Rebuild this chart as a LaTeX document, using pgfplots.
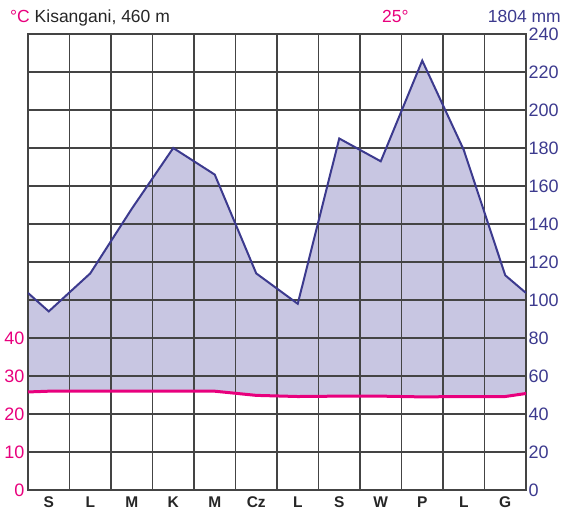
\documentclass[border=0pt]{standalone}
\usepackage{pgfplots}
\pgfplotsset{compat=1.18}
\usepgfplotslibrary{fillbetween}
\usepackage{fontspec}
\setmainfont{Liberation Sans}
\definecolor{tpink}{HTML}{E8007D}
\definecolor{pnavy}{HTML}{3C3A8E}
\definecolor{pfill}{HTML}{C8C6E2}
\definecolor{gridc}{HTML}{444444}
\begin{document}
\begin{tikzpicture}[x=1pt,y=1pt]
\begin{axis}[
  at={(0,0)}, anchor=south west,
  scale only axis, width=498pt, height=456pt,
  xmin=0, xmax=12, ymin=0, ymax=240,
  xtick={0.5,1.5,...,11.5},
  xticklabels={S,L,M,K,M,Cz,L,S,W,P,L,G},
  minor xtick={0,1,...,12},
  xmajorgrids=false, xminorgrids=true,
  ytick={0,20,...,240}, ymajorgrids=true,
  yticklabel pos=right,
  major tick length=0pt, minor tick length=0pt,
  major grid style={gridc, line width=1.2pt},
  minor grid style={gridc, line width=1.2pt},
  axis line style={gridc, line width=1.4pt},
  x tick label style={font=\fontsize{15.5}{17}\selectfont\bfseries, text=black!85, yshift=-3pt},
  y tick label style={font=\fontsize{18}{20}\selectfont, text=pnavy, anchor=west, xshift=-1pt},
  /pgf/number format/assume math mode=true,
  fill between/on layer=axis background,
]
\addplot[name path=P, pnavy, line width=2pt] coordinates {
  (0,103.7) (0.5,94) (1.5,114) (2.5,148) (3.5,180) (4.5,166) (5.5,114)
  (6.5,98) (7.5,185) (8.5,173) (9.5,226) (10.5,179) (11.5,113) (12,103.7)};
\addplot[name path=T, tpink, line width=3pt] table[x=m, y expr=\thisrow{t}*2] {
m t
0 25.8
0.5 26.0
1.5 26.0
2.5 26.0
3.5 26.0
4.5 26.0
5.5 24.9
6.5 24.6
7.5 24.7
8.5 24.7
9.5 24.5
10.5 24.6
11.5 24.6
12 25.4
};
\addplot[pfill] fill between[of=P and T];
\end{axis}
\begin{axis}[
  at={(0,0)}, anchor=south west,
  scale only axis, width=498pt, height=456pt,
  xmin=0, xmax=12, ymin=0, ymax=120,
  axis x line=none, axis y line*=left,
  axis line style={draw=none},
  ytick={0,10,20,30,40},
  major tick length=0pt,
  y tick label style={font=\fontsize{18}{20}\selectfont, text=tpink},
  /pgf/number format/assume math mode=true,
]
\end{axis}
\node[anchor=base west, inner sep=0pt, font=\fontsize{17.5}{20}\selectfont, text=black!85] at (-18,467) {\textcolor{tpink}{°C} Kisangani, 460 m};
\node[anchor=base west, inner sep=0pt, font=\fontsize{17.5}{20}\selectfont, text=tpink] at (354,467) {25°};
\node[anchor=base east, inner sep=0pt, font=\fontsize{17.5}{20}\selectfont, text=pnavy] at (533,467) {1804 mm};
\pgfresetboundingbox
\path[use as bounding box] (-28,-22) rectangle (535,490);
\end{tikzpicture}
\end{document}
